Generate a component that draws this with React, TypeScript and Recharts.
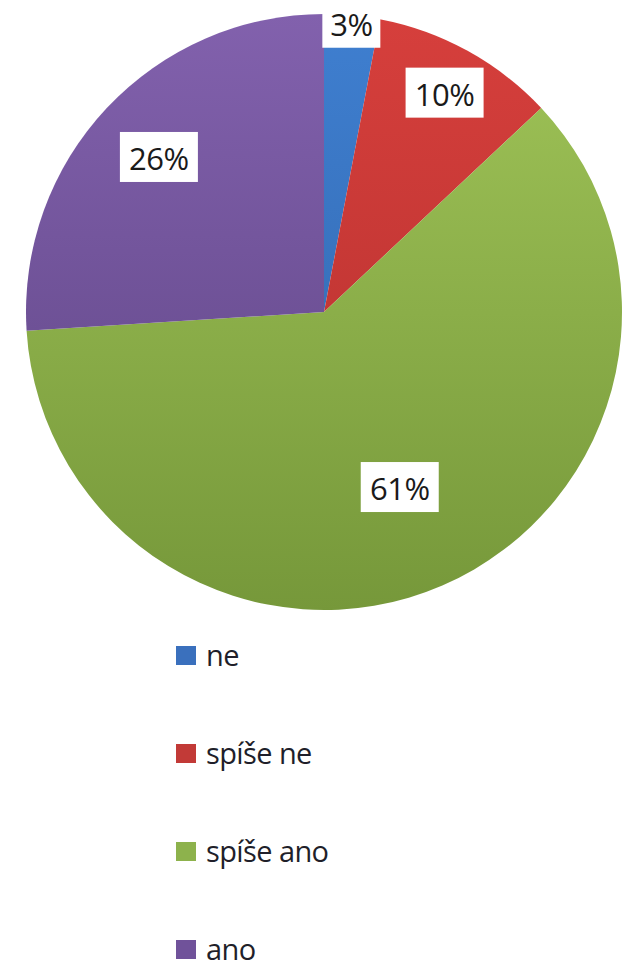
import React from 'react';
import { PieChart, Pie, Cell, Legend } from 'recharts';

const categories = ['ne', 'spíše ne', 'spíše ano', 'ano'];
const shares = [3, 10, 61, 26];

// top / bottom shade for each slice (Excel-like vertical gradient)
const COLORS_TOP = ['#3f7fd0', '#d63f3c', '#a0c458', '#8261ad'];
const COLORS_BOTTOM = ['#2f63a8', '#b22f2d', '#76983a', '#5c4382'];
const LEGEND_COLORS = ['#3a70bd', '#c23a37', '#8db24c', '#70529a'];

// how far out along the radius each label sits
const LABEL_RADIUS = [0.975, 0.84, 0.64, 0.76];

const data = categories.map((name, i) => ({ name, value: shares[i] }));

const FONT = '"Open Sans", Lato, sans-serif';
const RADIAN = Math.PI / 180;

const renderLabel = (props: any) => {
  const { cx, cy, midAngle, outerRadius, index, value } = props;
  const r = outerRadius * LABEL_RADIUS[index];
  const x = cx + r * Math.cos(-midAngle * RADIAN);
  const y = cy + r * Math.sin(-midAngle * RADIAN);
  const text = `${value}%`;
  const w = 18 + text.length * 20;
  const h = 50;
  return (
    <g>
      <rect x={x - w / 2} y={y - h / 2} width={w} height={h} fill="#ffffff" />
      <text
        x={x}
        y={y + 1}
        textAnchor="middle"
        dominantBaseline="central"
        fontFamily={FONT}
        fontSize={31}
        fontWeight={500}
        letterSpacing={-0.5}
        fill="#1a1a1a"
      >
        {text}
      </text>
    </g>
  );
};

const LegendContent = () => (
  <div style={{ fontFamily: FONT, display: 'flex', flexDirection: 'column', gap: 68 }}>
    {categories.map((name, i) => (
      <div
        key={name}
        style={{ display: 'flex', alignItems: 'center', height: 30 }}
      >
        <span
          style={{
            display: 'inline-block',
            width: 20,
            height: 19,
            background: LEGEND_COLORS[i],
            marginRight: 10,
          }}
        />
        <span style={{ fontSize: 29, lineHeight: '30px', fontWeight: 500, color: '#1f1f2a', letterSpacing: -0.6 }}>
          {name}
        </span>
      </div>
    ))}
  </div>
);

export default function App() {
  return (
    <div style={{ position: 'absolute', left: 0, top: 0, width: 625, height: 970, background: '#fff' }}>
      <PieChart width={625} height={970} margin={{ top: 0, right: 0, bottom: 0, left: 0 }}>
        <defs>
          {categories.map((name, i) => (
            <linearGradient
              key={name}
              id={`grad-${i}`}
              gradientUnits="userSpaceOnUse"
              x1={0}
              y1={14}
              x2={0}
              y2={610}
            >
              <stop offset="0%" stopColor={COLORS_TOP[i]} />
              <stop offset="100%" stopColor={COLORS_BOTTOM[i]} />
            </linearGradient>
          ))}
        </defs>
        <Pie
          data={data}
          dataKey="value"
          nameKey="name"
          cx={324}
          cy={312}
          outerRadius={298}
          startAngle={90}
          endAngle={-270}
          stroke="none"
          labelLine={false}
          label={renderLabel}
          isAnimationActive={false}
        >
          {data.map((_, i) => (
            <Cell key={`cell-${i}`} fill={`url(#grad-${i})`} />
          ))}
        </Pie>
        <Legend
          content={<LegendContent />}
          wrapperStyle={{ left: 176, top: 640, width: 300 }}
        />
      </PieChart>
    </div>
  );
}
